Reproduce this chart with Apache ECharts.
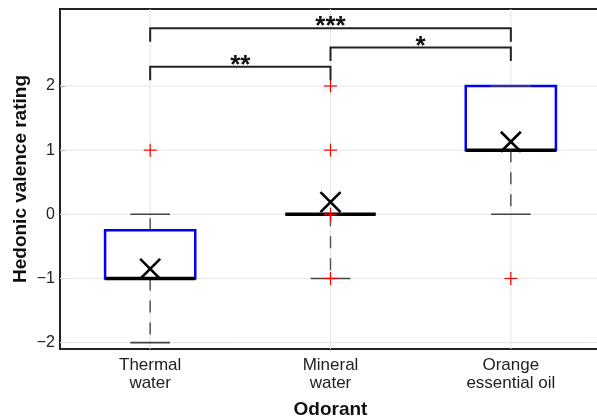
<!DOCTYPE html>
<html><head><meta charset="utf-8">
<script src="https://cdn.jsdelivr.net/npm/echarts@6/dist/echarts.min.js"></script>
<style>html,body{margin:0;padding:0;background:#fff}#c{width:597px;height:418px}</style>
</head><body><div id="c"></div>
<script>
const categories = ['Thermal\nwater', 'Mineral\nwater', 'Orange\nessential oil'];
const catPos = [1, 2, 3];
const whiskerLow = [-2, -1, 0];
const q1 = [-1, 0, 1];
const median = [-1, 0, 1];
const q3 = [-0.25, 0, 2];
const whiskerHigh = [0, 0, 2];
const means = [-0.85, 0.19, 1.13];
const outlierCat = [1, 2, 2, 2, 2, 3];
const outlierVal = [1, 2, 1, 0, -1, -1];
const yTicks = [-2, -1, 0, 1, 2];
const sigFrom = [1, 2, 1];
const sigTo = [2, 3, 3];
const sigLevel = [2.30, 2.60, 2.90];
const sigLabel = ['**', '*', '***'];

const FONT = '"Liberation Sans", Arial, sans-serif';
const chart = echarts.init(document.getElementById('c'), null, {renderer: 'canvas'});

const boxData = catPos.map((p, i) => [p, whiskerLow[i], q1[i], median[i], q3[i], whiskerHigh[i]]);
const meanData = catPos.map((p, i) => [p, means[i]]);
const outlierData = outlierCat.map((c, i) => [c, outlierVal[i]]);
const sigData = sigFrom.map((f, i) => [f, sigLevel[i], sigTo[i], i]);

const option = {
  animation: false,
  grid: {left: 60, right: -4, top: 9, bottom: 69, containLabel: false, outerBoundsMode: 'none',
    show: true, borderColor: '#222', borderWidth: 2, backgroundColor: 'transparent'},
  xAxis: {
    type: 'value', min: 0.5, max: 3.5,
    splitLine: {show: false}, axisLine: {show: false}, axisTick: {show: false},
    axisLabel: {
      customValues: catPos,
      formatter: v => categories[Math.round(v) - 1],
      fontSize: 17, lineHeight: 18, color: '#222', fontFamily: FONT, margin: 7
    },
    name: 'Odorant', nameLocation: 'middle', nameGap: 51, nameMoveOverlap: false,
    nameTextStyle: {fontWeight: 'bold', fontSize: 19, color: '#111', fontFamily: FONT}
  },
  yAxis: {
    type: 'value', min: -2.1, max: 3.2,
    splitLine: {show: false}, axisLine: {show: false},
    axisTick: {show: true, inside: true, length: 5, customValues: yTicks, lineStyle: {color: '#777'}},
    axisLabel: {
      customValues: yTicks,
      formatter: v => String(v).replace('-', '\u2212'),
      fontSize: 16, color: '#222', fontFamily: FONT, margin: 5
    },
    name: 'Hedonic valence rating', nameLocation: 'middle', nameGap: 30, nameRotate: 90, nameMoveOverlap: false,
    nameTextStyle: {fontWeight: 'bold', fontSize: 19, color: '#111', fontFamily: FONT}
  },
  series: [
    {
      type: 'custom', z: 1, silent: true,
      data: catPos.map(v => [v, 0]),
      renderItem: (params, api) => {
        const cs = params.coordSys;
        const x = api.coord([api.value(0), 0])[0];
        return {type: 'line', shape: {x1: x, y1: cs.y, x2: x, y2: cs.y + cs.height},
          style: {stroke: '#e4e4e4', lineWidth: 1}};
      }
    },
    {
      type: 'custom', z: 1, silent: true,
      data: yTicks.map(v => [1, v]),
      renderItem: (params, api) => {
        const cs = params.coordSys;
        const y = api.coord([1, api.value(1)])[1];
        return {type: 'line', shape: {x1: cs.x, y1: y, x2: cs.x + cs.width, y2: y},
          style: {stroke: '#e4e4e4', lineWidth: 1}};
      }
    },
    {
      type: 'custom', z: 2, silent: true,
      data: boxData,
      renderItem: (params, api) => {
        const x = api.value(0);
        const lo = api.coord([x, api.value(1)]);
        const a = api.coord([x, api.value(2)]);
        const m = api.coord([x, api.value(3)]);
        const b = api.coord([x, api.value(4)]);
        const hi = api.coord([x, api.value(5)]);
        const half = api.size([0.25, 0])[0];
        const cap = api.size([0.11, 0])[0];
        const cx = lo[0];
        const dash = {stroke: '#555', lineWidth: 1.5, lineDash: [12, 10]};
        const capStyle = {stroke: '#444', lineWidth: 1.6};
        return {type: 'group', children: [
          {type: 'line', shape: {x1: cx, y1: a[1], x2: cx, y2: lo[1]}, style: dash},
          {type: 'line', shape: {x1: cx, y1: b[1], x2: cx, y2: hi[1]}, style: dash},
          {type: 'rect', shape: {x: cx - half, y: b[1], width: 2 * half, height: a[1] - b[1]},
            style: {fill: '#fff', stroke: '#0000ff', lineWidth: 2.5}},
          {type: 'line', shape: {x1: cx - cap, y1: lo[1], x2: cx + cap, y2: lo[1]}, style: capStyle},
          {type: 'line', shape: {x1: cx - cap, y1: hi[1], x2: cx + cap, y2: hi[1]}, style: capStyle},
          {type: 'line', shape: {x1: cx - half, y1: m[1], x2: cx + half, y2: m[1]}, style: {stroke: '#000', lineWidth: 3.5}}
        ]};
      }
    },
    {
      type: 'custom', z: 3, silent: true,
      data: meanData,
      renderItem: (params, api) => {
        const p = api.coord([api.value(0), api.value(1)]);
        const s = 10;
        const st = {stroke: '#000', lineWidth: 2.6};
        return {type: 'group', children: [
          {type: 'line', shape: {x1: p[0] - s, y1: p[1] - s, x2: p[0] + s, y2: p[1] + s}, style: st},
          {type: 'line', shape: {x1: p[0] - s, y1: p[1] + s, x2: p[0] + s, y2: p[1] - s}, style: st}
        ]};
      }
    },
    {
      type: 'custom', z: 4, silent: true,
      data: outlierData,
      renderItem: (params, api) => {
        const p = api.coord([api.value(0), api.value(1)]);
        const s = 6.5;
        const st = {stroke: '#ff0000', lineWidth: 1.2};
        return {type: 'group', children: [
          {type: 'line', shape: {x1: p[0] - s, y1: p[1], x2: p[0] + s, y2: p[1]}, style: st},
          {type: 'line', shape: {x1: p[0], y1: p[1] - s, x2: p[0], y2: p[1] + s}, style: st}
        ]};
      }
    },
    {
      type: 'custom', z: 5, silent: true,
      data: sigData,
      renderItem: (params, api) => {
        const p1 = api.coord([api.value(0), api.value(1)]);
        const p2 = api.coord([api.value(2), api.value(1)]);
        const drop = api.size([0, 0.21])[1];
        const label = sigLabel[api.value(3)];
        return {type: 'group', children: [
          {type: 'polyline', shape: {points: [[p1[0], p1[1] + drop], [p1[0], p1[1]], [p2[0], p2[1]], [p2[0], p2[1] + drop]]},
            style: {stroke: '#222', lineWidth: 2, fill: null}},
          {type: 'text', style: {text: label, x: (p1[0] + p2[0]) / 2, y: p1[1] - 1, align: 'center', verticalAlign: 'middle',
            font: 'bold 26px ' + FONT, fill: '#111'}}
        ]};
      }
    }
  ]
};
chart.setOption(option);
</script>
</body></html>
